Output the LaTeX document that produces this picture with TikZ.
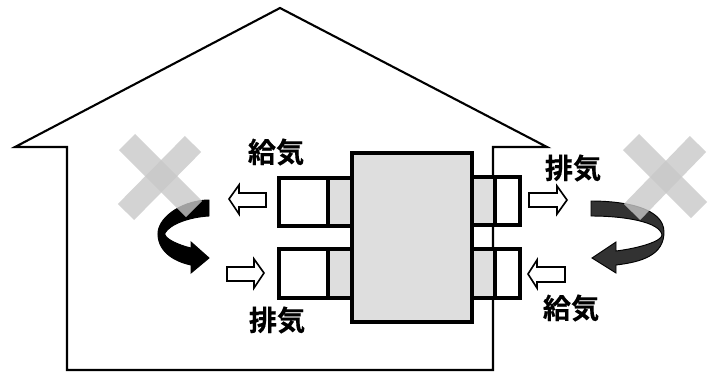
\documentclass[tikz,border=0pt]{standalone}
\usepackage{fontspec}
\usepackage{tikz}
\usepackage{xcolor}
\newfontfamily\jpfont{Noto Sans CJK JP}[BoldFont={Noto Sans CJK JP Bold},BoldFeatures={FakeBold=0.4}]
\definecolor{unitgray}{RGB}{222,222,222}
\definecolor{crossgray}{RGB}{200,200,200}
\definecolor{swirldark}{RGB}{50,50,50}
\tikzset{
    houseline/.style={line width=1.8pt,line join=miter},
    unitbox/.style={line width=2.7pt,fill=unitgray,line join=miter},
    ductbox/.style={line width=2.7pt,fill=white,line join=miter},
    flowarrow/.style={line width=1.4pt,fill=white,line join=miter},
    crossband/.style={line width=19.5pt,draw=crossgray,opacity=.8},
    airlabel/.style={font=\jpfont\bfseries\fontsize{24}{24}\selectfont,inner sep=0pt}
}

\begin{document}
\begin{tikzpicture}[x=0.03cm,y=-0.03cm]
    \useasboundingbox (0,0) rectangle (715,380);

    % House outline
    \draw[houseline] (15,147) -- (280,8) -- (547,147) -- (493,147) -- (493,370) -- (67,370) -- (67,147) -- cycle;

    % Main unit
    \draw[unitbox] (352,153) rectangle (472,322);

    % Ducts on the left
    \draw[unitbox] (328,178) rectangle (352,226);
    \draw[unitbox] (328,249) rectangle (352,298);
    \draw[ductbox] (279,178) rectangle (328,226);
    \draw[ductbox] (279,249) rectangle (328,298);

    % Ducts on the right
    \draw[unitbox] (472,177) rectangle (495,225);
    \draw[unitbox] (472,249) rectangle (495,298);
    \draw[ductbox] (495,177) rectangle (520,225);
    \draw[ductbox] (495,249) rectangle (520,298);

    % Small flow arrows
    \draw[flowarrow] (229,199) -- (239,185) -- (239,193) -- (266,193) -- (266,207) -- (239,207) -- (239,214) -- cycle;
    \draw[flowarrow] (264,273) -- (254,259) -- (254,267) -- (227,267) -- (227,281) -- (254,281) -- (254,288) -- cycle;
    \draw[flowarrow] (567,200) -- (557,186) -- (557,193) -- (529,193) -- (529,207) -- (557,207) -- (557,214) -- cycle;
    \draw[flowarrow] (528,274) -- (537,260) -- (537,267) -- (565,267) -- (565,282) -- (537,282) -- (537,288) -- cycle;

    % Swirl on the left
    \draw[line width=.8pt,fill=black] (209,200) .. controls (185,200) and (160,215) .. (158,232)
        .. controls (157,250) and (172,261) .. (191,265) -- (191,273) -- (209,258) -- (191,242) -- (191,248)
        .. controls (178,245) and (163,238) .. (165,233) .. controls (170,224) and (190,217) .. (209,216) -- cycle;

    % Swirl on the right
    \draw[line width=.8pt,fill=swirldark] (591,201) .. controls (625,201) and (664,208) .. (664,232)
        .. controls (664,255) and (642,262) .. (616,265) -- (616,273) -- (592,258) -- (616,242) -- (616,251)
        .. controls (640,248) and (662,241) .. (662,235) .. controls (660,222) and (625,216) .. (591,216) -- cycle;

    % Crosses
    \draw[crossband] (127,142) -- (194,209);
    \draw[crossband] (193,144) -- (126,212);
    \draw[crossband] (631,142) -- (699,210);
    \draw[crossband] (698,144) -- (632,212);

    % Labels
    \node[airlabel] (supplyleft) at (276,152) {給気};
    \node[airlabel] (exhaustleft) at (277,320) {排気};
    \node[airlabel] (exhaustright) at (573,168) {排気};
    \node[airlabel] (supplyright) at (571,308) {給気};
\end{tikzpicture}
\end{document}
